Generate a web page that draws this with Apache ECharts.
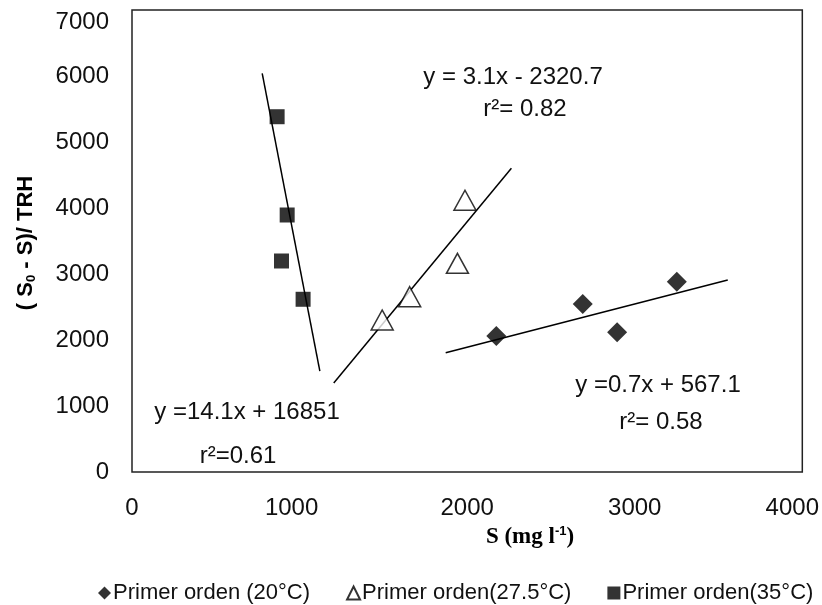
<!DOCTYPE html>
<html>
<head>
<meta charset="utf-8">
<script src="https://cdn.jsdelivr.net/npm/echarts@6/dist/echarts.min.js"></script>
<style>
html,body{margin:0;padding:0;background:#fff;}
#chart{width:822px;height:605px;}
</style>
</head>
<body>
<div id="chart"></div>
<script>
// ---- data ----
const s20 = [[2174, 2061], [2690, 2545], [2895, 2117], [3251, 2883]];
const s275 = [[1987, 4117], [1942, 3162], [1657, 2656], [1493, 2303]];
const s35 = [[866, 5383], [926, 3894], [892, 3197], [1021, 2617]];
const trend20 = [[1872, 1808], [3555, 2909]];
const trend275 = [[1204, 1348], [2264, 4602]];
const trend35 = [[777, 6041], [1121, 1530]];
const seriesNames = ['Primer orden (20°C)', 'Primer orden(27.5°C)', 'Primer orden(35°C)'];
const xRange = [0, 4000];
const yRange = [0, 7000];
const tickStep = 1000;
const eqTexts = [
  ['y = 3.1x - 2320.7', 'r²= 0.82'],
  ['y =14.1x + 16851', 'r²=0.61'],
  ['y =0.7x + 567.1', 'r²= 0.58']
];
const xTitle = 'S (mg l';
const yTitle = ['( S', '0', ' - S)/ TRH'];

const FONT = '"Liberation Sans", Arial, sans-serif';
const chart = echarts.init(document.getElementById('chart'), null, {renderer: 'canvas'});

function trendSeries(d) {
  return {
    type: 'line', data: d, symbol: 'none', silent: true,
    lineStyle: {color: '#000', width: 1.5}, z: 1, animation: false
  };
}

function eq(x, y, t) {
  return {
    type: 'text', x: x, y: y, silent: true,
    style: {text: t, font: '24px ' + FONT, fill: '#111', align: 'center', verticalAlign: 'middle'}
  };
}

const option = {
  backgroundColor: '#fff',
  animation: false,
  grid: {left: 132, top: 10, right: 19, bottom: 133, show: true, borderColor: '#222', borderWidth: 1.5, backgroundColor: 'transparent'},
  xAxis: {
    type: 'value', min: xRange[0], max: xRange[1], interval: tickStep,
    splitLine: {show: false}, axisTick: {show: false}, axisLine: {show: false},
    axisLabel: {
      margin: 24, color: '#111', fontSize: 24, fontFamily: FONT,
      formatter: function (v) {
        if (v === 4000) return '{s|4000}';
        if (v === 1000) return '{t|1000}';
        return String(v);
      },
      rich: {
        s: {fontSize: 24, fontFamily: FONT, color: '#111', padding: [0, 20, 0, 0]},
        t: {fontSize: 24, fontFamily: FONT, color: '#111', padding: [0, 16, 0, 0]}
      }
    }
  },
  yAxis: {
    type: 'value', min: yRange[0], max: yRange[1], interval: tickStep,
    splitLine: {show: false}, axisTick: {show: false}, axisLine: {show: false},
    axisLabel: {
      margin: 23, color: '#111', fontSize: 24, fontFamily: FONT,
      formatter: function (v) {
        if (v === 7000) return '{t|7000}';
        return String(v);
      },
      rich: {
        t: {fontSize: 24, fontFamily: FONT, color: '#111', padding: [24, 0, 0, 0]}
      }
    }
  },
  legend: {
    left: 93, top: 577, itemGap: 36, itemWidth: 13, itemHeight: 13,
    textStyle: {fontSize: 22, fontFamily: FONT, color: '#111', padding: [0, 0, 0, -3]},
    data: [
      {name: seriesNames[0], icon: 'diamond'},
      {name: seriesNames[1], icon: 'triangle'},
      {name: seriesNames[2], icon: 'rect'}
    ]
  },
  series: [
    {name: seriesNames[0], type: 'scatter', symbol: 'diamond', symbolSize: 20, data: s20,
      itemStyle: {color: '#000'}, z: 3},
    {name: seriesNames[1], type: 'scatter', symbol: 'triangle', symbolSize: [22, 20], data: s275,
      itemStyle: {color: '#fff', borderColor: '#000', borderWidth: 1.5}, z: 3},
    {name: seriesNames[2], type: 'scatter', symbol: 'rect', symbolSize: 15, data: s35,
      itemStyle: {color: '#000'}, z: 3},
    trendSeries(trend20),
    trendSeries(trend275),
    trendSeries(trend35)
  ],
  graphic: [
    eq(513, 77, eqTexts[0][0]),
    eq(525, 109, eqTexts[0][1]),
    eq(247, 412, eqTexts[1][0]),
    eq(238, 456, eqTexts[1][1]),
    eq(658, 385, eqTexts[2][0]),
    eq(661, 422, eqTexts[2][1]),
    {
      type: 'text', x: 530, y: 537, silent: true,
      style: {
        text: '{a|' + xTitle + '}{s|-1}{a|)}',
        align: 'center', verticalAlign: 'middle',
        rich: {
          a: {font: 'bold 23px "Liberation Serif", "Times New Roman", serif', fill: '#000'},
          s: {font: 'bold 13px "Liberation Sans", Arial, sans-serif', fill: '#000', padding: [0, 0, 12, 0]}
        }
      }
    },
    {
      type: 'text', x: 26, y: 243, rotation: Math.PI / 2, silent: true,
      style: {
        text: '{a|' + yTitle[0] + '}{s|' + yTitle[1] + '}{a|' + yTitle[2] + '}',
        align: 'center', verticalAlign: 'middle',
        rich: {
          a: {font: 'bold 22px ' + FONT, fill: '#000'},
          s: {font: 'bold 13px ' + FONT, fill: '#000', padding: [10, 0, 0, 0]}
        }
      }
    }
  ]
};
chart.setOption(option);
</script>
</body>
</html>
